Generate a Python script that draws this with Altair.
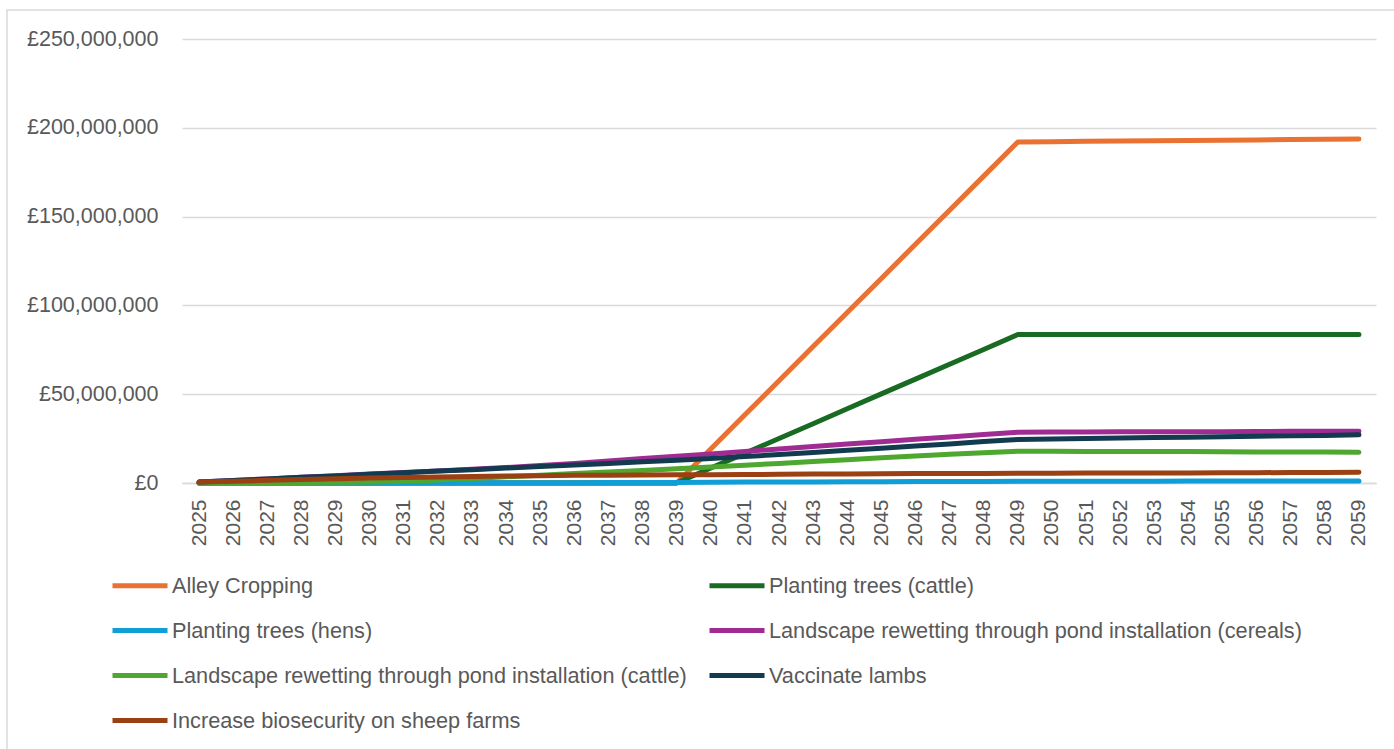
import altair as alt
import pandas as pd

# Years on the category axis
years = [str(y) for y in range(2025, 2060)]

# Series names in plotting order
series_names = [
    "Alley Cropping",
    "Planting trees (cattle)",
    "Planting trees (hens)",
    "Landscape rewetting through pond installation (cereals)",
    "Landscape rewetting through pond installation (cattle)",
    "Vaccinate lambs",
    "Increase biosecurity on sheep farms",
]
series_colors = ["#E97132", "#196B24", "#0F9ED5", "#A02B93", "#4EA72E", "#123B50", "#9A4013"]

# Legend fills column by column, so list entries so that rows read in series order
legend_order = [0, 2, 4, 6, 1, 3, 5]

# Cumulative values, £ millions, 2025..2059
alley_cropping = [0, 0, 0, 0, 0, 0, 0, 0, 0, 0, 0, 0, 0, 0, 0,
                  19.2, 38.4, 57.6, 76.8, 96.0, 115.2, 134.4, 153.6, 172.8, 192.0,
                  192.2, 192.4, 192.5, 192.7, 192.9, 193.0, 193.2, 193.4, 193.5, 193.7]
trees_cattle = [0, 0, 0, 0, 0, 0, 0, 0, 0, 0, 0, 0, 0, 0, 0,
                8.4, 16.7, 25.1, 33.4, 41.8, 50.2, 58.5, 66.9, 75.2, 83.6,
                83.6, 83.6, 83.6, 83.6, 83.6, 83.6, 83.6, 83.6, 83.6, 83.6]
trees_hens = [0, 0, 0, 0, 0, 0, 0.1, 0.1, 0.1, 0.2, 0.2, 0.2, 0.3, 0.3, 0.3,
              0.4, 0.5, 0.5, 0.6, 0.7, 0.7, 0.8, 0.9, 0.9, 1.0,
              1.0, 1.0, 1.0, 1.0, 1.1, 1.1, 1.1, 1.1, 1.1, 1.1]
rewet_cereals = [0.5, 1.4, 2.3, 3.2, 4.1, 5.0, 5.9, 6.8, 7.7, 8.7, 9.8, 11.0, 12.4, 13.8, 15.1,
                 16.4, 17.8, 19.2, 20.5, 21.9, 23.2, 24.6, 25.9, 27.3, 28.6,
                 28.7, 28.7, 28.8, 28.8, 28.9, 28.9, 29.0, 29.1, 29.1, 29.2]
rewet_cattle = [0, 0.1, 0.2, 0.3, 0.4, 0.6, 1.0, 1.7, 2.6, 3.5, 4.4, 5.3, 6.2, 7.1, 8.0,
                9.0, 10.0, 11.0, 12.1, 13.1, 14.2, 15.2, 16.2, 17.1, 17.9,
                17.9, 17.8, 17.8, 17.7, 17.7, 17.6, 17.5, 17.5, 17.4, 17.3]
vaccinate_lambs = [0.5, 1.4, 2.3, 3.2, 4.0, 4.9, 5.8, 6.7, 7.5, 8.4, 9.3, 10.2, 11.0, 11.9, 12.8,
                   13.8, 14.9, 16.0, 17.2, 18.4, 19.6, 20.8, 22.0, 23.3, 24.5,
                   24.8, 25.0, 25.3, 25.6, 25.8, 26.1, 26.3, 26.6, 26.8, 27.1]
sheep_biosecurity = [0.5, 1.0, 1.5, 2.0, 2.4, 2.8, 3.1, 3.4, 3.7, 3.9, 4.1, 4.3, 4.4, 4.5, 4.6,
                     4.7, 4.8, 4.9, 5.0, 5.1, 5.2, 5.3, 5.3, 5.4, 5.5,
                     5.5, 5.6, 5.6, 5.7, 5.7, 5.8, 5.8, 5.9, 5.9, 6.0]

series_values = [alley_cropping, trees_cattle, trees_hens, rewet_cereals,
                 rewet_cattle, vaccinate_lambs, sheep_biosecurity]

y_ticks = [0, 50_000_000, 100_000_000, 150_000_000, 200_000_000, 250_000_000]

rows = []
for name, vals in zip(series_names, series_values):
    for yr, v in zip(years, vals):
        rows.append({"year": yr, "series": name, "value": v * 1_000_000})
df = pd.DataFrame(rows)

legend_names = [series_names[i] for i in legend_order]
legend_colors = [series_colors[i] for i in legend_order]

AXIS_FONT = "Liberation Sans"
LEGEND_FONT = "Liberation Sans"
TEXT_GREY = "#595959"
GRID_GREY = "#D9D9D9"

lines = alt.Chart(df).mark_line(strokeWidth=5, strokeCap="round", strokeJoin="round").encode(
    x=alt.X("year:O", sort=years, title=None,
            scale=alt.Scale(paddingInner=0, paddingOuter=0.5),
            axis=alt.Axis(labelAngle=-90, labelFont=AXIS_FONT, labelFontSize=21,
                          labelColor=TEXT_GREY, ticks=False, domainColor=GRID_GREY,
                          domainWidth=1.5, labelPadding=16, grid=False)),
    y=alt.Y("value:Q", title=None,
            scale=alt.Scale(domain=[0, 250_000_000], nice=False),
            axis=alt.Axis(values=y_ticks, labelExpr="'£' + format(datum.value, ',.0f')",
                          labelFont=AXIS_FONT, labelFontSize=21.5, labelColor=TEXT_GREY,
                          ticks=False, domain=False, gridColor=GRID_GREY, gridWidth=1.5,
                          labelPadding=24)),
    color=alt.Color("series:N",
                    scale=alt.Scale(domain=legend_names, range=legend_colors),
                    legend=alt.Legend(title=None, orient="none", legendX=-72, legendY=516.5,
                                      columns=2, columnPadding=12, rowPadding=3,
                                      symbolType="stroke", symbolSize=3025,
                                      symbolStrokeWidth=5, labelOffset=2,
                                      labelFont=LEGEND_FONT, labelFontSize=21.7,
                                      labelColor=TEXT_GREY, labelLimit=700)),
)

# Thin outer frame around the whole chart area
frame = alt.Chart(pd.DataFrame({"f": [0]})).mark_rect(
    fill=None, stroke=GRID_GREY, strokeWidth=1.5
).encode(x=alt.value(-175), x2=alt.value(1240), y=alt.value(-29), y2=alt.value(720))

chart = alt.layer(frame, lines).properties(
    width=1194, height=444,
    autosize=alt.AutoSizeParams(type="none"),
    padding={"left": 182, "top": 39, "right": 18, "bottom": 266},
).configure_view(stroke=None)

chart.save("out.html", embed_options={"renderer": "svg", "actions": False})
